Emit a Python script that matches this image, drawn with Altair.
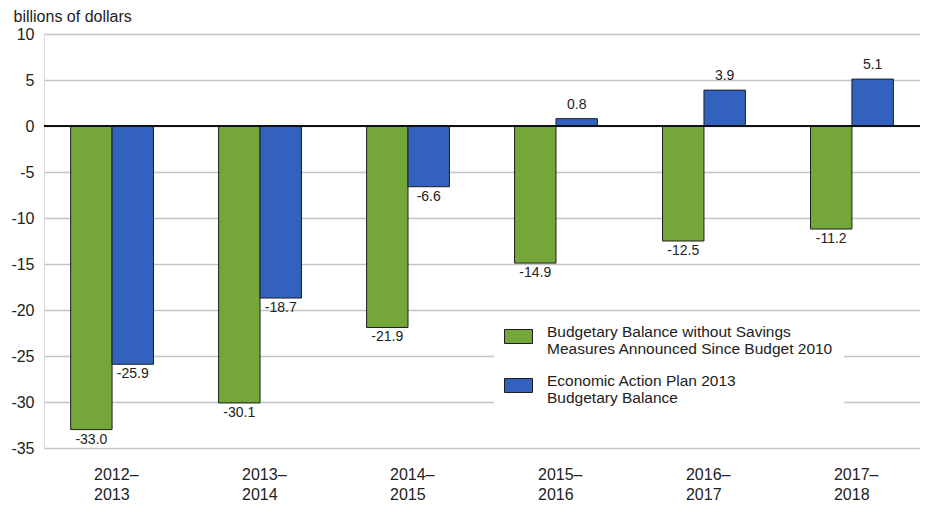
import altair as alt
import pandas as pd

years = ["2012–2013", "2013–2014", "2014–2015", "2015–2016", "2016–2017", "2017–2018"]
series_names = [
    "Budgetary Balance without Savings\nMeasures Announced Since Budget 2010",
    "Economic Action Plan 2013\nBudgetary Balance",
]
without_savings = [-33.0, -30.1, -21.9, -14.9, -12.5, -11.2]
eap_2013 = [-25.9, -18.7, -6.6, 0.8, 3.9, 5.1]
colors = ["#74a63a", "#3262bd"]

rows = []
for i, y in enumerate(years):
    rows.append({"year": y, "series": series_names[0], "order": 0, "value": without_savings[i]})
    rows.append({"year": y, "series": series_names[1], "order": 1, "value": eap_2013[i]})
df = pd.DataFrame(rows)
df["label"] = df["value"].map(lambda v: f"{v:.1f}")

FONT = "Liberation Sans"

x_enc = alt.X(
    "year:N",
    sort=years,
    scale=alt.Scale(paddingInner=0.44, paddingOuter=0.18),
    axis=alt.Axis(
        title=None,
        domain=False,
        ticks=False,
        labelAngle=0,
        labelAlign="left",
        labelOffset=-18,
        labelPadding=18,
        labelFontSize=16,
        labelLineHeight=20,
        labelColor="#222222",
        labelFont=FONT,
        labelExpr="[slice(datum.label, 0, 5), slice(datum.label, 5)]",
    ),
)
y_scale = alt.Scale(domain=[-35, 10], nice=False, zero=False)
xoff = alt.XOffset("series:N", sort=series_names, scale=alt.Scale(paddingInner=0))

bars = alt.Chart(df).mark_bar(stroke="#1e1e1e", strokeWidth=1).encode(
    x=x_enc,
    xOffset=xoff,
    y=alt.Y(
        "value:Q",
        scale=y_scale,
        axis=alt.Axis(
            values=list(range(-35, 11, 5)),
            domain=False,
            ticks=False,
            grid=True,
            gridColor="#c4c4c4",
            gridWidth=1.3,
            labelExpr="toString(datum.value)",
            labelFontSize=16,
            labelColor="#222222",
            labelFont=FONT,
            labelPadding=10,
            title="billions of dollars",
            titleAngle=0,
            titleAlign="left",
            titleBaseline="alphabetic",
            titleX=-31,
            titleY=-13,
            titleFont=FONT,
            titleFontSize=16,
            titleFontWeight="normal",
            titleColor="#222222",
        ),
    ),
    y2=alt.datum(0),
    fill=alt.Fill(
        "series:N",
        sort=series_names,
        scale=alt.Scale(domain=series_names, range=colors),
        legend=alt.Legend(
            title=None,
            orient="none",
            legendX=450,
            legendY=278,
            fillColor="white",
            padding=10,
            symbolType="M-1,-0.5H1V0.5H-1Z",
            symbolSize=784,
            symbolStrokeColor="#1e1e1e",
            symbolStrokeWidth=1,
            labelFont=FONT,
            labelFontSize=15.5,
            labelColor="#222222",
            labelLimit=400,
            labelOffset=14,
            labelBaseline="alphabetic",
            labelExpr="split(datum.label, '\\n')",
            rowPadding=13,
        ),
    ),
)

neg_labels = alt.Chart(df).transform_filter("datum.value < 0").mark_text(
    baseline="top", dy=3, fontSize=14, font=FONT, color="#222222"
).encode(x=alt.X("year:N", sort=years), xOffset=alt.XOffset("series:N", sort=series_names), y=alt.Y("value:Q", scale=y_scale), text="label:N")

pos_labels = alt.Chart(df).transform_filter("datum.value >= 0").mark_text(
    baseline="bottom", dy=-7, fontSize=14, font=FONT, color="#222222"
).encode(x=alt.X("year:N", sort=years), xOffset=alt.XOffset("series:N", sort=series_names), y=alt.Y("value:Q", scale=y_scale), text="label:N")

zero_line = alt.Chart(df).mark_rule(color="#111111", strokeWidth=2).encode(y=alt.datum(0))

chart = alt.layer(bars, zero_line, neg_labels, pos_labels).properties(
    width=876,
    height=414,
    padding={"left": 36, "top": 26, "right": 0, "bottom": 57},
    autosize=alt.AutoSizeParams(type="none"),
).configure_view(stroke=None).configure(background="white")

chart.save("out.html", embed_options={"renderer": "svg", "actions": False})
